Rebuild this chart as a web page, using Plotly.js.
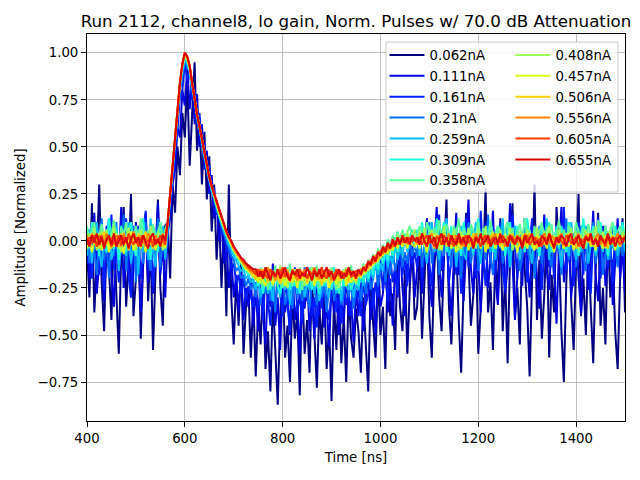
<!DOCTYPE html>
<html><head><meta charset="utf-8">
<script src="https://cdn.plot.ly/plotly-3.0.1.min.js"></script>
<style>body{margin:0;padding:0;background:#fff}#plot{width:640px;height:480px}</style>
</head><body><div id="plot"></div>
<script>
// Sample times [ns], every 5 ns from 400 to 1500
var time_ns = [400,405,410,415,420,425,430,435,440,445,450,455,460,465,470,475,480,485,490,495,500,505,510,515,520,525,530,535,540,545,550,555,560,
565,570,575,580,585,590,595,600,605,610,615,620,625,630,635,640,645,650,655,660,665,670,675,680,685,690,695,700,705,710,715,720,725,730,735,740,
745,750,755,760,765,770,775,780,785,790,795,800,805,810,815,820,825,830,835,840,845,850,855,860,865,870,875,880,885,890,895,900,905,910,915,920,925,930,935,940,945,950,
955,960,965,970,975,980,985,990,995,1000,1005,1010,1015,1020,1025,1030,1035,1040,1045,1050,1055,1060,1065,1070,
1075,1080,1085,1090,1095,1100,1105,1110,1115,1120,1125,1130,1135,1140,1145,1150,1155,1160,1165,1170,1175,1180,1185,1190,1195,1200,1205,1210,1215,1220,1225,1230,1235,1240,1245,1250,1255,1260,1265,1270,1275,1280,1285,1290,1295,1300,1305,1310,1315,1320,1325,1330,1335,1340,1345,1350,1355,1360,1365,1370,1375,1380,1385,1390,1395,1400,1405,1410,1415,1420,1425,1430,1435,1440,1445,1450,1455,1460,1465,1470,1475,1480,1485,1490,1495,1500];

var series_labels = ['0.062nA','0.111nA','0.161nA','0.21nA','0.259nA','0.309nA','0.358nA','0.408nA','0.457nA','0.506nA','0.556nA','0.605nA','0.655nA'];
var series_colors = ['#000080','#0000da','#001dff','#006bff','#00bbff','#1cffd8','#5cff9c','#9bff5c','#daff1c','#ffce00','#ff8500','#ff3c00','#d90000'];

var amp_0062 = [-0.05,-0.30,0.20,-0.38,-0.10,0.30,-0.22,-0.48,0.02,-0.15,-0.42,0.10,-0.28,-0.60,-0.05,0.18,-0.35,-0.12,0.25,-0.40,-0.20,0.05,-0.52,-0.08,0.15,-0.32,-0.02,-0.58,-0.18,0.22,-0.25,-0.45,0.08,
0.10,-0.20,0.30,0.15,0.50,0.35,0.68,0.55,0.85,0.40,0.72,0.95,0.48,0.65,0.30,0.58,0.22,0.45,0.05,0.30,-0.10,0.15,-0.25,0.08,-0.40,0.30,-0.30,-0.55,-0.20,-0.45,-0.10,-0.60,-0.35,-0.25,-0.62,-0.30,
-0.72,-0.35,-0.55,-0.20,-0.68,-0.48,-0.80,-0.30,-0.58,-0.87,-0.40,-0.15,-0.62,-0.45,-0.75,-0.28,-0.52,-0.38,-0.82,-0.22,-0.60,-0.42,-0.70,-0.18,-0.50,-0.78,-0.35,-0.55,-0.25,-0.68,-0.45,-0.85,-0.32,-0.58,-0.20,-0.65,-0.40,-0.75,-0.28,-0.52,-0.62,-0.36,
-0.48,-0.70,-0.30,-0.55,-0.80,-0.25,-0.45,-0.62,-0.18,-0.50,-0.35,-0.68,-0.12,-0.40,-0.28,-0.58,-0.05,-0.35,-0.48,-0.15,-0.60,-0.25,-0.02,-0.42,
-0.35,-0.05,-0.52,-0.20,0.10,-0.40,-0.62,-0.15,0.05,-0.30,-0.48,-0.08,0.22,-0.35,-0.55,-0.18,-0.02,-0.42,-0.70,-0.25,0.15,-0.10,-0.45,-0.28,0.02,-0.60,-0.32,-0.12,0.28,-0.38,
-0.22,-0.58,-0.05,-0.30,0.12,-0.48,-0.18,-0.65,-0.08,0.20,-0.40,-0.25,-0.55,0.05,-0.15,-0.35,-0.72,-0.20,0.30,-0.42,
-0.10,-0.52,-0.28,0.08,-0.62,-0.18,-0.38,0.18,-0.05,-0.48,-0.75,-0.22,0.10,-0.32,-0.58,-0.12,0.25,-0.40,-0.20,-0.50,
-0.02,-0.35,-0.65,-0.15,0.15,-0.45,-0.25,-0.55,0.05,-0.30,-0.10,-0.48,-0.68,-0.20,0.12,-0.38];

var amp_0111 = [0.08,-0.20,-0.05,0.15,-0.28,-0.10,0.05,-0.32,-0.02,0.12,-0.18,-0.35,0.00,-0.12,0.18,-0.25,-0.08,0.06,-0.30,-0.15,0.10,-0.05,-0.38,-0.12,0.14,-0.22,0.02,-0.28,-0.06,0.20,-0.18,-0.02,-0.30,
0.05,0.12,0.30,0.38,0.60,0.55,0.80,0.72,0.92,0.70,0.85,0.62,0.78,0.50,0.62,0.38,0.48,0.25,0.35,0.12,0.22,0.00,0.10,-0.12,-0.02,-0.25,-0.08,-0.30,-0.18,-0.38,-0.15,-0.42,-0.25,-0.35,-0.20,-0.45,
-0.25,-0.48,-0.18,-0.40,-0.55,-0.22,-0.35,-0.12,-0.45,-0.30,-0.58,-0.20,-0.38,-0.28,-0.50,-0.15,-0.42,-0.32,-0.60,-0.25,-0.36,-0.18,-0.48,-0.30,-0.52,-0.22,-0.40,-0.14,-0.46,-0.34,-0.56,-0.24,-0.38,-0.20,-0.50,-0.28,-0.44,-0.16,-0.40,-0.32,-0.54,-0.26,
-0.40,-0.22,-0.48,-0.30,-0.18,-0.42,-0.25,-0.50,-0.15,-0.35,-0.28,-0.08,-0.38,-0.20,-0.45,-0.12,-0.30,-0.02,-0.25,-0.40,-0.10,-0.22,0.02,-0.30,
-0.15,0.05,-0.28,-0.08,0.12,-0.20,-0.35,-0.02,0.18,-0.12,-0.30,-0.05,0.08,-0.22,-0.40,-0.10,0.15,-0.18,0.00,-0.32,
-0.08,0.22,-0.15,-0.28,0.04,-0.12,-0.38,-0.02,0.10,-0.25,-0.10,0.16,-0.20,-0.34,-0.05,0.06,-0.28,-0.14,0.20,-0.08,
-0.42,-0.18,0.02,-0.24,0.12,-0.10,-0.30,-0.02,0.08,-0.20,-0.36,-0.06,0.14,-0.16,-0.26,0.00,-0.12,-0.44,-0.04,0.18,
-0.22,-0.08,0.06,-0.30,-0.14,0.10,-0.20,-0.38,-0.02,0.04,-0.26,-0.10,0.16,-0.18,-0.32,-0.06,0.08,-0.24,-0.12,0.02,
-0.34,-0.08,0.12,-0.20,-0.04,-0.28];

var amp_0161 = [-0.12,0.06,-0.20,0.10,-0.04,-0.18,0.02,-0.26,0.08,-0.10,0.14,-0.15,-0.02,-0.22,0.05,-0.08,0.12,-0.18,-0.30,0.00,-0.12,0.08,-0.20,-0.05,0.16,-0.14,0.02,-0.24,-0.06,0.10,-0.16,0.04,-0.10,
0.02,0.20,0.32,0.50,0.58,0.78,0.80,0.95,0.85,0.92,0.75,0.80,0.62,0.68,0.50,0.52,0.36,0.40,0.26,0.28,0.14,0.16,0.04,0.06,-0.06,-0.04,-0.15,-0.12,-0.22,-0.18,-0.28,-0.20,-0.32,-0.24,-0.30,-0.35,
-0.22,-0.38,-0.26,-0.42,-0.18,-0.32,-0.45,-0.24,-0.36,-0.16,-0.30,-0.40,-0.20,-0.34,-0.48,-0.26,-0.14,-0.38,-0.28,-0.44,-0.22,-0.32,-0.18,-0.40,-0.30,-0.46,-0.24,-0.36,-0.20,-0.34,-0.42,-0.26,-0.16,-0.38,-0.30,-0.44,-0.22,-0.34,-0.28,-0.40,-0.18,-0.32,
-0.26,-0.40,-0.20,-0.34,-0.28,-0.14,-0.36,-0.22,-0.30,-0.10,-0.26,-0.18,-0.32,-0.08,-0.22,-0.14,-0.28,-0.04,-0.18,-0.10,-0.24,0.02,-0.12,-0.06,
-0.14,0.04,-0.20,-0.02,0.10,-0.12,-0.24,0.02,-0.08,0.14,-0.16,-0.04,0.08,-0.22,-0.10,0.06,-0.18,0.00,-0.28,-0.06,
0.12,-0.14,-0.02,0.06,-0.20,-0.10,0.16,-0.08,-0.24,0.02,-0.12,0.08,-0.18,-0.04,0.10,-0.16,-0.26,0.00,-0.10,0.14,
-0.06,-0.20,0.04,-0.12,0.08,-0.22,-0.02,0.12,-0.16,-0.08,0.06,-0.26,-0.04,0.10,-0.14,0.00,-0.20,0.08,-0.10,-0.02,
0.18,-0.16,-0.06,0.04,-0.24,-0.10,0.10,-0.02,-0.18,0.06,-0.12,-0.28,0.02,-0.08,0.12,-0.20,-0.04,0.08,-0.14,0.00,
-0.22,0.06,-0.10,-0.02,0.10,-0.16];

var amp_0210 = [0.04,-0.12,0.08,-0.06,-0.18,0.02,0.12,-0.10,-0.02,-0.20,0.06,-0.08,0.10,-0.14,-0.04,0.14,-0.16,0.00,-0.10,0.08,-0.22,-0.02,0.06,-0.12,0.10,-0.06,-0.16,0.04,-0.08,0.12,-0.14,0.00,-0.06,
0.06,0.22,0.36,0.52,0.66,0.80,0.88,0.96,0.92,0.90,0.80,0.76,0.64,0.62,0.52,0.46,0.38,0.34,0.26,0.24,0.16,0.14,0.08,0.04,0.00,-0.04,-0.08,-0.10,-0.16,-0.14,-0.20,-0.18,-0.24,-0.20,-0.26,-0.22,
-0.30,-0.18,-0.34,-0.22,-0.28,-0.14,-0.32,-0.24,-0.38,-0.20,-0.26,-0.16,-0.34,-0.28,-0.22,-0.36,-0.18,-0.30,-0.24,-0.32,-0.14,-0.28,-0.36,-0.20,-0.26,-0.34,-0.18,-0.30,-0.22,-0.38,-0.24,-0.16,-0.32,-0.26,-0.20,-0.34,-0.28,-0.18,-0.30,-0.22,-0.36,-0.24,
-0.20,-0.32,-0.18,-0.28,-0.14,-0.26,-0.20,-0.10,-0.24,-0.16,-0.08,-0.22,-0.12,-0.18,-0.04,-0.16,-0.10,0.00,-0.14,-0.06,-0.12,0.02,-0.08,-0.02,
-0.08,0.06,-0.14,0.00,-0.06,0.10,-0.12,-0.02,0.04,-0.18,0.02,-0.08,0.12,-0.04,-0.14,0.06,-0.10,0.00,-0.20,0.04,
-0.06,0.10,-0.12,-0.02,0.08,-0.16,-0.04,0.02,-0.10,0.14,-0.08,-0.18,0.04,-0.02,0.08,-0.12,-0.06,0.10,-0.14,0.00,
-0.04,0.06,-0.16,-0.08,0.12,-0.02,-0.10,0.04,-0.20,-0.06,0.08,-0.12,0.00,0.10,-0.08,-0.14,0.02,-0.04,0.06,-0.18,
-0.02,0.12,-0.10,-0.06,0.04,-0.14,0.00,0.08,-0.08,-0.16,0.02,-0.04,0.10,-0.12,-0.02,0.06,-0.18,-0.06,0.04,-0.10,
0.08,-0.02,-0.14,0.02,-0.08,0.06];

var amp_0259 = [-0.08,0.06,-0.12,0.02,0.10,-0.06,-0.14,0.04,-0.02,0.12,-0.10,-0.04,0.08,-0.16,0.00,0.06,-0.08,0.10,-0.12,-0.02,0.04,-0.18,0.08,-0.06,0.02,-0.10,0.12,-0.04,-0.14,0.06,-0.02,0.08,-0.10,
0.08,0.23,0.38,0.53,0.68,0.82,0.90,0.97,0.94,0.90,0.82,0.74,0.66,0.60,0.52,0.45,0.38,0.32,0.27,0.22,0.17,0.13,0.09,0.05,0.01,-0.02,-0.05,-0.08,-0.11,-0.13,-0.16,-0.15,-0.20,-0.18,-0.22,-0.20,
-0.26,-0.18,-0.30,-0.20,-0.14,-0.28,-0.22,-0.32,-0.16,-0.24,-0.30,-0.18,-0.26,-0.20,-0.34,-0.22,-0.16,-0.28,-0.24,-0.18,-0.30,-0.22,-0.26,-0.14,-0.28,-0.20,-0.32,-0.24,-0.18,-0.26,-0.30,-0.16,-0.22,-0.28,-0.20,-0.32,-0.18,-0.24,-0.26,-0.20,-0.30,-0.22,
-0.26,-0.18,-0.24,-0.14,-0.22,-0.16,-0.20,-0.10,-0.18,-0.12,-0.16,-0.06,-0.14,-0.08,-0.12,-0.02,-0.10,-0.04,-0.08,0.02,-0.06,-0.02,0.02,-0.04,
0.04,-0.08,0.08,-0.04,-0.12,0.02,0.10,-0.06,0.00,-0.10,0.06,-0.02,0.12,-0.08,-0.04,0.04,-0.14,0.02,0.08,-0.06,
-0.10,0.06,0.00,-0.08,0.10,-0.04,-0.12,0.04,-0.02,0.08,-0.06,0.02,-0.10,0.06,-0.04,0.12,-0.08,0.00,-0.14,0.04,
0.08,-0.02,-0.10,0.02,-0.06,0.10,-0.04,-0.12,0.06,0.00,-0.08,0.04,-0.02,0.12,-0.10,0.02,-0.06,0.08,-0.04,-0.14,
0.04,0.00,-0.08,0.10,-0.02,-0.10,0.06,-0.06,0.02,0.08,-0.12,-0.02,0.04,-0.08,0.10,0.00,-0.06,0.06,-0.10,0.02,
-0.04,0.08,-0.08,0.00,0.06,-0.06];

var amp_0309 = [0.06,-0.04,0.10,-0.02,0.04,-0.08,0.08,0.00,-0.06,0.12,0.02,-0.04,0.06,-0.10,0.08,0.02,-0.06,0.04,0.10,-0.02,-0.08,0.06,0.00,0.12,-0.04,0.02,-0.10,0.08,0.04,-0.06,0.10,-0.02,0.04,
0.09,0.24,0.39,0.54,0.69,0.83,0.92,0.98,0.96,0.91,0.83,0.74,0.67,0.60,0.53,0.46,0.39,0.33,0.28,0.23,0.18,0.14,0.10,0.06,0.03,0.00,-0.03,-0.06,-0.08,-0.11,-0.12,-0.15,-0.16,-0.18,-0.17,-0.20,
-0.16,-0.24,-0.18,-0.28,-0.20,-0.14,-0.26,-0.22,-0.16,-0.24,-0.28,-0.18,-0.22,-0.14,-0.26,-0.20,-0.24,-0.16,-0.28,-0.22,-0.18,-0.24,-0.14,-0.26,-0.20,-0.22,-0.28,-0.16,-0.24,-0.18,-0.20,-0.26,-0.14,-0.22,-0.28,-0.18,-0.24,-0.20,-0.16,-0.26,-0.22,-0.18,
-0.24,-0.16,-0.22,-0.14,-0.20,-0.12,-0.18,-0.10,-0.15,-0.06,-0.12,-0.04,-0.10,-0.02,-0.08,0.02,-0.06,0.00,-0.04,0.04,-0.02,0.02,0.06,-0.02,
0.06,-0.04,0.10,0.00,-0.06,0.08,0.02,-0.04,0.12,-0.02,0.04,0.10,-0.06,0.02,0.08,-0.04,0.06,0.00,-0.08,0.10,
0.02,-0.02,0.08,-0.06,0.04,0.12,-0.02,0.06,-0.04,0.00,0.10,-0.06,0.04,0.08,-0.02,0.02,-0.08,0.06,0.10,-0.04,
0.00,0.08,-0.02,0.04,-0.06,0.12,0.02,-0.04,0.06,0.00,-0.08,0.08,0.04,-0.02,0.10,-0.06,0.02,0.06,-0.04,0.08,
0.00,-0.06,0.10,0.04,-0.02,0.06,-0.08,0.02,0.12,-0.04,0.04,0.00,0.08,-0.06,0.02,0.10,-0.02,0.04,-0.08,0.06,
0.00,0.08,-0.04,0.02,0.10,-0.02];

var amp_0358 = [0.08,-0.02,0.05,0.10,-0.04,0.03,0.09,0.00,0.06,-0.05,0.04,0.11,0.01,-0.03,0.07,0.02,0.10,-0.04,0.05,0.00,0.08,-0.02,0.12,0.03,-0.05,0.06,0.01,0.09,-0.03,0.04,0.10,0.00,0.06,
0.10,0.25,0.40,0.55,0.70,0.84,0.93,0.98,0.96,0.92,0.84,0.75,0.68,0.61,0.54,0.47,0.40,0.34,0.29,0.24,0.19,0.15,0.11,0.07,0.04,0.01,-0.02,-0.05,-0.07,-0.09,-0.11,-0.13,-0.15,-0.16,-0.18,-0.17,
-0.16,-0.22,-0.14,-0.24,-0.18,-0.26,-0.15,-0.21,-0.13,-0.23,-0.19,-0.25,-0.16,-0.20,-0.12,-0.24,-0.18,-0.22,-0.14,-0.26,-0.17,-0.21,-0.15,-0.23,-0.19,-0.13,-0.25,-0.18,-0.22,-0.16,-0.24,-0.14,-0.20,-0.26,-0.17,-0.21,-0.15,-0.23,-0.19,-0.13,-0.22,-0.18,
-0.15,-0.20,-0.12,-0.18,-0.10,-0.15,-0.07,-0.12,-0.04,-0.09,-0.02,-0.06,0.01,-0.04,0.03,-0.01,0.05,0.00,0.06,0.01,0.04,0.08,0.02,0.06,
0.00,0.08,0.03,-0.03,0.10,0.05,-0.01,0.07,0.02,0.11,-0.02,0.06,0.09,0.01,-0.04,0.08,0.04,0.12,0.00,0.06,
0.03,-0.03,0.09,0.05,0.01,0.10,-0.02,0.07,0.04,0.00,0.11,0.03,-0.01,0.08,0.05,-0.04,0.06,0.10,0.02,0.07,
-0.02,0.04,0.09,0.00,0.12,0.03,0.06,-0.03,0.08,0.02,0.05,0.10,-0.01,0.07,0.03,0.09,-0.03,0.04,0.11,0.01,
0.06,0.00,0.08,0.04,-0.02,0.10,0.05,0.02,0.07,-0.04,0.09,0.03,0.06,0.00,0.11,0.04,-0.01,0.08,0.02,0.06,
0.10,-0.02,0.05,0.08,0.01,0.07];

var amp_0408 = [-0.03,0.04,0.00,0.07,-0.05,0.02,0.05,-0.02,0.06,-0.04,0.01,0.08,-0.03,0.03,-0.06,0.05,0.00,0.07,-0.02,0.04,-0.05,0.02,0.06,-0.01,0.03,-0.04,0.08,0.00,-0.03,0.05,0.02,-0.05,0.04,
0.09,0.25,0.40,0.55,0.70,0.84,0.93,0.99,0.97,0.92,0.84,0.75,0.67,0.61,0.54,0.47,0.40,0.34,0.29,0.24,0.19,0.15,0.11,0.07,0.04,0.01,-0.02,-0.05,-0.07,-0.09,-0.11,-0.13,-0.14,-0.16,-0.17,-0.18,
-0.21,-0.16,-0.23,-0.18,-0.14,-0.22,-0.19,-0.24,-0.16,-0.20,-0.13,-0.22,-0.18,-0.25,-0.17,-0.21,-0.15,-0.23,-0.19,-0.16,-0.24,-0.18,-0.21,-0.14,-0.22,-0.17,-0.20,-0.24,-0.16,-0.19,-0.23,-0.15,-0.21,-0.18,-0.25,-0.17,-0.20,-0.14,-0.22,-0.19,-0.16,-0.23,
-0.17,-0.20,-0.14,-0.17,-0.11,-0.15,-0.08,-0.12,-0.06,-0.09,-0.03,-0.07,-0.01,-0.05,0.01,-0.03,0.03,-0.01,0.04,0.00,0.05,-0.02,0.03,0.06,
-0.02,0.05,0.00,0.07,-0.04,0.03,0.06,-0.02,0.04,-0.05,0.02,0.08,-0.01,0.04,-0.03,0.06,0.01,-0.05,0.05,0.02,
-0.02,0.07,0.00,0.04,-0.04,0.06,0.02,-0.01,0.08,-0.03,0.03,0.05,-0.04,0.01,0.06,-0.02,0.04,0.00,0.07,-0.05,
0.02,-0.01,0.05,0.03,-0.03,0.06,0.00,0.04,-0.04,0.07,0.01,-0.02,0.05,0.02,0.08,-0.03,0.03,-0.01,0.06,0.00,
-0.04,0.04,0.02,0.07,-0.02,0.05,-0.05,0.03,0.01,0.06,-0.01,0.04,-0.03,0.08,0.00,0.02,0.05,-0.04,0.03,0.06,
-0.02,0.01,0.04,-0.03,0.05,0.00];

var amp_0457 = [-0.04,0.02,-0.06,0.00,-0.02,0.04,-0.05,-0.01,0.03,-0.06,0.01,-0.03,0.04,-0.04,0.00,-0.07,0.02,-0.02,0.05,-0.05,-0.01,0.03,-0.04,0.01,-0.06,0.02,-0.02,0.04,-0.05,0.00,-0.03,0.03,-0.04,
0.09,0.25,0.40,0.55,0.70,0.84,0.94,0.99,0.97,0.92,0.84,0.75,0.67,0.61,0.54,0.47,0.40,0.34,0.29,0.24,0.19,0.15,0.11,0.07,0.04,0.01,-0.02,-0.05,-0.07,-0.09,-0.11,-0.13,-0.15,-0.16,-0.17,-0.19,
-0.18,-0.22,-0.16,-0.21,-0.24,-0.19,-0.17,-0.23,-0.20,-0.15,-0.22,-0.18,-0.24,-0.20,-0.17,-0.22,-0.19,-0.25,-0.16,-0.21,-0.18,-0.23,-0.20,-0.17,-0.24,-0.19,-0.21,-0.16,-0.22,-0.18,-0.25,-0.20,-0.17,-0.23,-0.19,-0.21,-0.16,-0.24,-0.18,-0.22,-0.20,-0.17,
-0.19,-0.16,-0.18,-0.13,-0.16,-0.11,-0.13,-0.08,-0.11,-0.06,-0.08,-0.04,-0.07,-0.02,-0.05,-0.01,-0.04,0.01,-0.03,0.00,-0.04,0.02,-0.02,-0.03,
0.01,-0.04,0.03,-0.02,-0.06,0.02,-0.01,0.04,-0.03,0.00,-0.05,0.02,-0.02,0.03,-0.04,0.01,-0.06,0.00,0.03,-0.03,
0.02,-0.05,-0.01,0.04,-0.02,0.01,-0.04,0.03,-0.06,0.00,-0.02,0.02,-0.04,0.04,-0.01,-0.05,0.01,-0.03,0.03,-0.02,
0.00,-0.06,0.02,-0.01,0.04,-0.04,0.01,-0.02,-0.05,0.03,-0.03,0.00,0.02,-0.04,0.04,-0.01,-0.06,0.01,-0.02,0.03,
-0.04,0.00,-0.03,0.02,-0.05,0.01,0.03,-0.02,-0.04,0.00,0.04,-0.03,0.01,-0.05,0.02,-0.01,-0.04,0.03,0.00,-0.02,
0.02,-0.05,0.01,-0.03,0.03,-0.01];

var amp_0506 = [0.02,-0.03,0.04,-0.01,0.03,-0.04,0.01,0.05,-0.02,0.02,-0.04,0.03,0.00,-0.03,0.04,-0.01,0.02,-0.05,0.03,0.00,-0.02,0.04,-0.03,0.01,0.05,-0.02,0.00,-0.04,0.03,-0.01,0.02,-0.03,0.01,
0.10,0.25,0.40,0.55,0.70,0.84,0.94,1.00,0.97,0.93,0.84,0.75,0.67,0.61,0.54,0.47,0.40,0.34,0.29,0.25,0.20,0.16,0.12,0.08,0.05,0.02,-0.01,-0.04,-0.06,-0.08,-0.10,-0.12,-0.14,-0.15,-0.17,-0.18,
-0.20,-0.17,-0.21,-0.15,-0.19,-0.22,-0.18,-0.16,-0.21,-0.19,-0.23,-0.17,-0.20,-0.15,-0.22,-0.18,-0.20,-0.16,-0.21,-0.19,-0.17,-0.22,-0.18,-0.20,-0.15,-0.21,-0.19,-0.23,-0.17,-0.20,-0.16,-0.22,-0.18,-0.19,-0.21,-0.16,-0.20,-0.18,-0.22,-0.17,-0.19,-0.21,
-0.17,-0.19,-0.15,-0.16,-0.12,-0.14,-0.10,-0.11,-0.07,-0.09,-0.05,-0.06,-0.03,-0.05,-0.01,-0.03,0.00,-0.02,0.02,-0.01,0.01,-0.02,0.02,0.00,
-0.02,0.03,-0.01,0.04,-0.03,0.02,0.00,-0.04,0.03,0.01,-0.02,0.04,-0.03,0.02,0.00,0.03,-0.02,0.01,-0.04,0.03,
0.00,0.02,-0.03,0.04,-0.01,0.02,-0.02,0.03,0.00,-0.04,0.02,0.04,-0.01,0.01,-0.03,0.03,0.00,-0.02,0.02,0.04,
-0.01,0.01,-0.03,0.03,-0.02,0.00,0.04,-0.01,0.02,-0.04,0.01,0.03,-0.02,0.00,0.04,-0.03,0.02,-0.01,0.03,0.00,
-0.03,0.02,0.04,-0.02,0.01,-0.04,0.03,0.00,-0.01,0.02,0.04,-0.02,0.01,-0.03,0.03,0.00,-0.02,0.02,-0.04,0.01,
0.03,-0.01,0.02,-0.03,0.00,0.02];

var amp_0556 = [0.03,-0.01,0.04,0.00,-0.03,0.03,0.01,-0.02,0.04,0.00,0.02,-0.02,0.03,0.01,-0.03,0.04,0.00,0.02,-0.01,0.05,0.01,-0.02,0.03,0.00,-0.03,0.04,0.02,-0.01,0.03,0.00,-0.02,0.04,0.01,
0.10,0.25,0.40,0.55,0.70,0.84,0.94,1.00,0.98,0.93,0.84,0.75,0.67,0.61,0.54,0.47,0.40,0.34,0.29,0.25,0.20,0.16,0.12,0.08,0.05,0.02,-0.01,-0.04,-0.06,-0.08,-0.10,-0.12,-0.13,-0.15,-0.16,-0.17,
-0.16,-0.19,-0.15,-0.20,-0.17,-0.14,-0.19,-0.16,-0.21,-0.17,-0.15,-0.19,-0.18,-0.16,-0.20,-0.15,-0.18,-0.21,-0.16,-0.18,-0.15,-0.20,-0.17,-0.19,-0.14,-0.18,-0.20,-0.16,-0.19,-0.17,-0.15,-0.21,-0.18,-0.16,-0.19,-0.17,-0.20,-0.15,-0.18,-0.16,-0.19,-0.17,
-0.18,-0.15,-0.16,-0.13,-0.14,-0.10,-0.12,-0.08,-0.09,-0.05,-0.07,-0.03,-0.05,-0.02,-0.03,0.00,-0.02,0.01,-0.01,0.02,0.00,0.01,0.03,0.00,
0.02,-0.01,0.03,0.00,-0.03,0.02,0.04,-0.01,0.01,0.03,-0.02,0.02,0.00,0.04,-0.02,0.01,0.03,-0.01,0.02,-0.03,
0.03,0.00,0.02,-0.01,0.04,0.01,-0.02,0.02,0.00,0.03,-0.02,0.01,0.04,-0.01,0.02,0.00,-0.03,0.02,0.03,-0.01,
0.01,0.03,0.00,-0.02,0.04,0.01,-0.01,0.03,0.00,0.02,-0.03,0.02,0.04,0.00,-0.01,0.03,0.01,-0.02,0.02,0.04,
0.00,-0.02,0.03,0.01,-0.01,0.02,0.04,-0.03,0.01,0.02,0.00,0.03,-0.01,0.02,0.04,-0.02,0.01,0.00,0.03,-0.01,
0.02,0.00,0.04,-0.02,0.01,0.03];

var amp_0605 = [-0.02,0.02,-0.01,0.03,-0.03,0.01,0.03,-0.02,0.00,0.02,-0.03,0.01,-0.01,0.03,-0.02,0.02,-0.01,0.04,0.00,-0.02,0.02,-0.03,0.01,0.03,-0.01,0.00,0.02,-0.03,0.01,-0.01,0.03,0.00,-0.02,
0.10,0.25,0.40,0.55,0.70,0.84,0.94,1.00,0.98,0.93,0.84,0.75,0.67,0.61,0.54,0.47,0.40,0.34,0.29,0.25,0.20,0.16,0.12,0.08,0.05,0.02,0.00,-0.03,-0.05,-0.07,-0.09,-0.11,-0.12,-0.14,-0.15,-0.16,
-0.18,-0.15,-0.19,-0.16,-0.18,-0.20,-0.15,-0.17,-0.19,-0.16,-0.18,-0.14,-0.19,-0.17,-0.20,-0.16,-0.17,-0.19,-0.15,-0.18,-0.17,-0.20,-0.16,-0.18,-0.15,-0.19,-0.17,-0.14,-0.18,-0.20,-0.16,-0.17,-0.19,-0.15,-0.18,-0.16,-0.20,-0.17,-0.15,-0.19,-0.18,-0.16,
-0.16,-0.17,-0.14,-0.15,-0.11,-0.12,-0.09,-0.10,-0.06,-0.07,-0.04,-0.05,-0.02,-0.03,-0.01,-0.02,0.01,-0.01,0.02,0.00,-0.01,0.02,0.00,0.01,
-0.01,0.02,-0.02,0.01,0.03,-0.01,0.00,-0.03,0.02,0.01,-0.02,0.03,0.00,-0.01,0.02,-0.03,0.01,0.02,-0.02,0.00,
0.03,-0.01,0.01,-0.02,0.02,0.00,-0.03,0.01,0.03,-0.01,0.00,0.02,-0.02,0.01,-0.01,0.03,0.00,-0.02,0.01,0.02,
-0.01,0.00,0.02,-0.03,0.01,0.03,-0.02,0.00,0.02,-0.01,0.01,-0.03,0.02,0.00,0.03,-0.01,-0.02,0.01,0.02,0.00,
-0.02,0.03,0.01,-0.01,0.00,0.02,-0.03,0.01,-0.01,0.03,0.00,0.02,-0.02,0.01,-0.01,0.02,0.00,-0.03,0.03,0.01,
-0.01,0.02,0.00,-0.02,0.01,0.02];

var amp_0655 = [0.01,-0.03,0.03,-0.01,0.04,-0.02,0.02,-0.04,0.01,0.03,-0.02,0.04,-0.03,0.00,0.03,-0.02,0.02,-0.04,0.01,0.04,-0.01,0.02,-0.03,0.03,0.00,-0.04,0.02,0.04,-0.02,0.01,-0.03,0.03,0.00,
0.10,0.25,0.40,0.55,0.70,0.84,0.94,1.00,0.98,0.93,0.84,0.75,0.67,0.61,0.54,0.47,0.40,0.34,0.29,0.25,0.20,0.16,0.12,0.08,0.05,0.02,0.00,-0.03,-0.05,-0.07,-0.09,-0.10,-0.12,-0.13,-0.14,-0.15,
-0.15,-0.19,-0.16,-0.20,-0.14,-0.18,-0.21,-0.16,-0.19,-0.15,-0.20,-0.17,-0.14,-0.19,-0.21,-0.16,-0.18,-0.15,-0.20,-0.17,-0.19,-0.14,-0.18,-0.21,-0.16,-0.19,-0.15,-0.20,-0.17,-0.14,-0.19,-0.16,-0.21,-0.18,-0.15,-0.20,-0.17,-0.19,-0.14,-0.18,-0.16,-0.20,
-0.15,-0.18,-0.14,-0.16,-0.11,-0.13,-0.08,-0.11,-0.06,-0.08,-0.03,-0.06,-0.01,-0.04,0.01,-0.03,0.02,-0.02,0.03,-0.01,0.02,-0.02,0.03,0.00,
0.02,-0.02,0.04,0.00,-0.03,0.03,-0.01,0.02,-0.04,0.01,0.04,-0.02,0.02,-0.03,0.03,0.00,-0.02,0.04,-0.01,0.02,
-0.03,0.03,0.01,-0.04,0.02,-0.01,0.04,-0.02,0.01,0.03,-0.03,0.00,0.02,-0.02,0.04,-0.01,0.01,-0.03,0.03,0.00,
-0.02,0.02,0.01,-0.04,0.03,-0.01,0.02,0.04,-0.02,0.00,-0.03,0.03,0.01,-0.02,0.04,0.00,-0.04,0.02,-0.01,0.03,
0.01,-0.03,0.02,0.04,-0.02,0.00,0.03,-0.01,-0.04,0.02,0.00,0.04,-0.02,0.01,-0.03,0.03,0.00,-0.01,0.04,-0.02,
0.02,-0.03,0.01,0.03,-0.01,0.02];

var series_values = [amp_0062,amp_0111,amp_0161,amp_0210,amp_0259,amp_0309,amp_0358,amp_0408,amp_0457,amp_0506,amp_0556,amp_0605,amp_0655];

var x_ticks = [400,600,800,1000,1200,1400];
var y_ticks = [-0.75,-0.5,-0.25,0,0.25,0.5,0.75,1.0];

var FONT = 'DejaVu Sans, Liberation Sans, sans-serif';
var traces = series_values.map(function(v,i){
  return {
    x: time_ns, y: v, type: 'scatter', mode: 'lines',
    name: series_labels[i], legendgroup: 'g'+i,
    legend: i < 7 ? 'legend' : 'legend2',
    line: {color: series_colors[i], width: 2}
  };
});

var legendCommon = {
  bgcolor: 'rgba(0,0,0,0)', borderwidth: 0,
  font: {family: FONT, size: 13.3, color: '#000'},
  tracegroupgap: 0.6, itemwidth: 35,
  xanchor: 'left', yanchor: 'top', xref: 'paper', yref: 'paper'
};
var leg1 = Object.assign({}, legendCommon, {x: 0.553, y: 0.985});
var leg2 = Object.assign({}, legendCommon, {x: 0.787, y: 0.985});

var layout = {
  width: 640, height: 480,
  margin: {l: 87, r: 15, t: 34, b: 59},
  paper_bgcolor: '#fff', plot_bgcolor: '#fff',
  showlegend: true,
  title: {text: 'Run 2112, channel8, lo gain, Norm. Pulses w/ 70.0 dB Attenuation',
          font: {family: FONT, size: 16.7, color: '#000'},
          x: 0.5, xref: 'paper', xanchor: 'center', y: 0.955, yref: 'container', yanchor: 'middle'},
  xaxis: {range: [400,1500], tickvals: x_ticks, ticktext: x_ticks.map(String),
          showline: true, mirror: true, linecolor: '#000', linewidth: 1,
          ticks: 'outside', ticklen: 5, tickcolor: '#000', tickwidth: 1,
          showgrid: true, gridcolor: '#b0b0b0', gridwidth: 0.8, zeroline: false,
          tickfont: {family: FONT, size: 13.3, color: '#000'},
          title: {text: 'Time [ns]', font: {family: FONT, size: 13.3, color: '#000'}, standoff: 7}},
  yaxis: {range: [-0.957,1.10], tickvals: y_ticks, tickformat: '.2f',
          showline: true, mirror: true, linecolor: '#000', linewidth: 1,
          ticks: 'outside', ticklen: 5, tickcolor: '#000', tickwidth: 1,
          showgrid: true, gridcolor: '#b0b0b0', gridwidth: 0.8, zeroline: false,
          tickfont: {family: FONT, size: 13.3, color: '#000'},
          title: {text: 'Amplitude [Normalized]', font: {family: FONT, size: 13.3, color: '#000'}, standoff: 8}},
  legend: leg1, legend2: leg2,
  shapes: [{type: 'rect', xref: 'paper', yref: 'paper', x0: 0.5558, x1: 0.987, y0: 0.5917, y1: 0.979,
            fillcolor: 'rgba(255,255,255,0.8)', line: {color: '#cccccc', width: 1}, layer: 'above'}]
};

Plotly.newPlot('plot', traces, layout, {displayModeBar: false, staticPlot: true});
</script></body></html>
